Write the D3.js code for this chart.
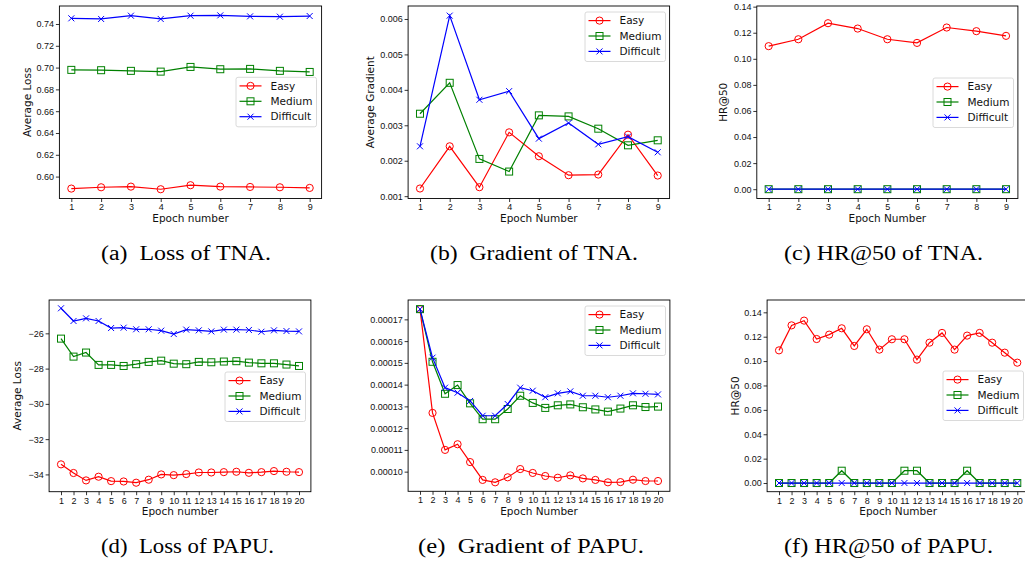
<!DOCTYPE html>
<html>
<head>
<meta charset="utf-8">
<title>Training curves</title>
<script src="https://d3js.org/d3.v7.min.js"></script>
<style>
  body { margin: 0; background: #fff; }
  svg { display: block; font-family: "DejaVu Sans", sans-serif; }
  .frame { fill: none; stroke: #000; stroke-width: 0.9px; }
  .tick line { stroke: #000; stroke-width: 0.8px; }
  .tick text { font-size: 9px; fill: #111; }
  .axis-label { font-size: 10.5px; fill: #111; }
  .legend-box { fill: #fff; fill-opacity: 0.85; stroke: #d0d0d0; stroke-width: 0.8px; }
  .legend-text { font-size: 10.5px; fill: #111; }
  .caption { font-family: "Liberation Serif", "Times New Roman", serif; font-size: 20px; fill: #000; }
</style>
</head>
<body>
<svg width="1025" height="563"></svg>
<script>
// ---- data ----
var epochs9 = [1, 2, 3, 4, 5, 6, 7, 8, 9];
var epochs20 = [1, 2, 3, 4, 5, 6, 7, 8, 9, 10, 11, 12, 13, 14, 15, 16, 17, 18, 19, 20];
var seriesNames = ['Easy', 'Medium', 'Difficult'];

// (a) loss of TNA
var tnaLossEasy = [0.5890, 0.5902, 0.5908, 0.5884, 0.5921, 0.5908, 0.5905, 0.5902, 0.5896];
var tnaLossMedium = [0.6979, 0.6976, 0.6970, 0.6963, 0.7006, 0.6985, 0.6988, 0.6970, 0.6960];
var tnaLossDifficult = [0.7452, 0.7446, 0.7476, 0.7446, 0.7476, 0.7479, 0.7470, 0.7467, 0.7473];

// (b) gradient of TNA
var tnaGradEasy = [0.001216, 0.002407, 0.001253, 0.002801, 0.002126, 0.001591, 0.001610, 0.002735, 0.001582];
var tnaGradMedium = [0.003326, 0.004199, 0.002051, 0.001694, 0.003280, 0.003251, 0.002904, 0.002435, 0.002576];
var tnaGradDifficult = [0.002407, 0.006094, 0.003720, 0.003964, 0.002623, 0.003064, 0.002463, 0.002679, 0.002238];

// (c) HR@50 of TNA
var tnaHrEasy = [0.1097, 0.1150, 0.1273, 0.1232, 0.1150, 0.1122, 0.1240, 0.1212, 0.1176];
var tnaHrMedium = [0, 0, 0, 0, 0, 0, 0, 0, 0];
var tnaHrDifficult = [0, 0, 0, 0, 0, 0, 0, 0, 0];

// (d) loss of PAPU
var papuLossEasy = [-33.43, -33.92, -34.34, -34.13, -34.38, -34.40, -34.47, -34.30, -34.00, -34.04,
                    -33.98, -33.89, -33.89, -33.87, -33.85, -33.91, -33.87, -33.81, -33.85, -33.87];
var papuLossMedium = [-26.30, -27.32, -27.09, -27.79, -27.79, -27.85, -27.75, -27.62, -27.55, -27.72,
                      -27.75, -27.62, -27.64, -27.60, -27.58, -27.66, -27.70, -27.70, -27.77, -27.85];
var papuLossDifficult = [-24.58, -25.30, -25.15, -25.30, -25.70, -25.68, -25.77, -25.77, -25.85, -26.04,
                         -25.79, -25.83, -25.89, -25.79, -25.79, -25.81, -25.91, -25.83, -25.87, -25.89];

// (e) gradient of PAPU
var papuGradEasy = [0.0001747, 0.0001270, 0.0001100, 0.0001126, 0.0001044, 0.0000962, 0.0000951, 0.0000974, 0.0001012, 0.0000994,
                    0.0000980, 0.0000972, 0.0000983, 0.0000969, 0.0000962, 0.0000951, 0.0000952, 0.0000963, 0.0000957, 0.0000957];
var papuGradMedium = [0.0001747, 0.0001505, 0.0001358, 0.0001398, 0.0001314, 0.0001241, 0.0001241, 0.0001288, 0.0001349, 0.0001316,
                      0.0001293, 0.0001305, 0.0001309, 0.0001296, 0.0001286, 0.0001276, 0.0001290, 0.0001305, 0.0001297, 0.0001299];
var papuGradDifficult = [0.0001747, 0.0001524, 0.0001386, 0.0001363, 0.0001325, 0.0001257, 0.0001257, 0.0001311, 0.0001386, 0.0001372,
                         0.0001342, 0.0001360, 0.0001369, 0.0001349, 0.0001349, 0.0001342, 0.0001349, 0.0001360, 0.0001358, 0.0001355];

// (f) HR@50 of PAPU
var papuHrEasy = [0.1088, 0.1293, 0.1332, 0.1181, 0.1217, 0.1269, 0.1124, 0.1261, 0.1094, 0.1179,
                  0.1179, 0.1012, 0.1151, 0.1231, 0.1094, 0.1209, 0.1231, 0.1151, 0.1069, 0.0987];
var papuHrMedium = [0, 0, 0, 0, 0, 0.0101, 0, 0, 0, 0, 0.0101, 0.0101, 0, 0, 0, 0.0101, 0, 0, 0, 0];
var papuHrDifficult = [0, 0, 0, 0, 0, 0, 0, 0, 0, 0, 0, 0, 0, 0, 0, 0, 0, 0, 0, 0];

// tick labels
var yTicksTnaLoss = [0.60, 0.62, 0.64, 0.66, 0.68, 0.70, 0.72, 0.74];
var yTicksTnaGrad = [0.001, 0.002, 0.003, 0.004, 0.005, 0.006];
var yTicksHr = [0.00, 0.02, 0.04, 0.06, 0.08, 0.10, 0.12, 0.14];
var yTicksPapuLoss = [-34, -32, -30, -28, -26];
var yTicksPapuGrad = [0.00010, 0.00011, 0.00012, 0.00013, 0.00014, 0.00015, 0.00016, 0.00017];

var captions = ['(a)  Loss of TNA.', '(b)  Gradient of TNA.', '(c) HR@50 of TNA.',
                '(d)  Loss of PAPU.', '(e)  Gradient of PAPU.', '(f) HR@50 of PAPU.'];

// ---- layout ----
var colors = { Easy: '#ff0000', Medium: '#008000', Difficult: '#0000ff' };
var svg = d3.select('svg');
svg.append('rect').attr('width', 1025).attr('height', 563).attr('fill', '#fff');

var panels = [
  { box: [59.4, 6, 321.6, 198.5], epochs: epochs9, ydom: [0.5799, 0.7565], yticks: yTicksTnaLoss, fmt: '.2f',
    ylabel: 'Average Loss', ylx: 27, xlabel: 'Epoch number', legend: [236, 77.3],
    data: [tnaLossEasy, tnaLossMedium, tnaLossDifficult] },
  { box: [408.1, 6, 669.6, 198.5], epochs: epochs9, ydom: [0.000934, 0.006366], yticks: yTicksTnaGrad, fmt: '.3f',
    ylabel: 'Average Gradient', ylx: 370, xlabel: 'Epoch Number', legend: [585, 12],
    data: [tnaGradEasy, tnaGradMedium, tnaGradDifficult] },
  { box: [756.8, 6, 1017.9, 198.5], epochs: epochs9, ydom: [-0.00714, 0.1405], yticks: yTicksHr, fmt: '.2f',
    ylabel: 'HR@50', ylx: 723, xlabel: 'Epoch Number', legend: [933, 78],
    data: [tnaHrEasy, tnaHrMedium, tnaHrDifficult] },
  { box: [49.1, 300, 310.9, 491.7], epochs: epochs20, ydom: [-34.98, -24.11], yticks: yTicksPapuLoss, fmt: 'd',
    ylabel: 'Average Loss', ylx: 17, xlabel: 'Epoch number', legend: [225, 372],
    data: [papuLossEasy, papuLossMedium, papuLossDifficult] },
  { box: [408.1, 300, 669.9, 491.3], epochs: epochs20, ydom: [0.00009097, 0.0001789], yticks: yTicksPapuGrad, fmt: '.5f',
    ylabel: null, xlabel: 'Epoch Number', legend: [585, 306],
    data: [papuGradEasy, papuGradMedium, papuGradDifficult] },
  { box: [767.1, 300, 1029.2, 491.7], epochs: epochs20, ydom: [-0.00711, 0.1501], yticks: yTicksHr, fmt: '.2f',
    ylabel: 'HR@50', ylx: 735, xlabel: 'Epoch Number', legend: [943, 371],
    data: [papuHrEasy, papuHrMedium, papuHrDifficult] }
];

function drawMarker(sel, name) {
  if (name === 'Easy') {
    sel.append('circle').attr('r', 3.6).attr('fill', 'none').attr('stroke', colors[name]).attr('stroke-width', 1);
  } else if (name === 'Medium') {
    sel.append('rect').attr('x', -3.5).attr('y', -3.5).attr('width', 7).attr('height', 7)
      .attr('fill', 'none').attr('stroke', colors[name]).attr('stroke-width', 1);
  } else {
    sel.append('path').attr('d', 'M-3,-3L3,3M-3,3L3,-3').attr('stroke', colors[name]).attr('stroke-width', 1);
  }
}

panels.forEach(function(p, pi) {
  var x0 = p.box[0], y0 = p.box[1], x1 = p.box[2], y1 = p.box[3];
  var n = p.epochs.length;
  var x = d3.scaleLinear().domain([1 - (n - 1) * 0.05, n + (n - 1) * 0.05]).range([x0, x1]);
  var y = d3.scaleLinear().domain(p.ydom).range([y1, y0]);
  var g = svg.append('g');

  // series
  var line = d3.line().x(function(d) { return x(d[0]); }).y(function(d) { return y(d[1]); });
  seriesNames.forEach(function(name, si) {
    var pts = p.epochs.map(function(e, i) { return [e, p.data[si][i]]; });
    g.append('path').attr('d', line(pts)).attr('fill', 'none')
      .attr('stroke', colors[name]).attr('stroke-width', 1.2);
    g.selectAll('g.m' + si).data(pts).enter().append('g')
      .attr('class', 'm' + si)
      .attr('transform', function(d) { return 'translate(' + x(d[0]) + ',' + y(d[1]) + ')'; })
      .each(function() { drawMarker(d3.select(this), name); });
  });

  // axes
  var xAxis = d3.axisBottom(x).tickValues(p.epochs).tickFormat(d3.format('d'))
    .tickSize(3.5).tickPadding(2).tickSizeOuter(0);
  g.append('g').attr('transform', 'translate(0,' + y1 + ')').call(xAxis)
    .call(function(a) { a.select('.domain').remove(); });
  var yAxis = d3.axisLeft(y).tickValues(p.yticks).tickFormat(d3.format(p.fmt))
    .tickSize(3.5).tickPadding(1.8).tickSizeOuter(0);
  g.append('g').attr('transform', 'translate(' + x0 + ',0)').call(yAxis)
    .call(function(a) { a.select('.domain').remove(); });
  g.selectAll('.tick text').attr('font-family', null).attr('font-size', null);

  g.append('rect').attr('class', 'frame')
    .attr('x', x0).attr('y', y0).attr('width', x1 - x0).attr('height', y1 - y0);

  // labels
  g.append('text').attr('class', 'axis-label').attr('text-anchor', 'middle')
    .attr('x', (x0 + x1) / 2).attr('y', y1 + 23.5).text(p.xlabel);
  if (p.ylabel) {
    g.append('text').attr('class', 'axis-label').attr('text-anchor', 'middle')
      .attr('transform', 'translate(' + (p.ylx + 3.8) + ',' + ((y0 + y1) / 2) + ') rotate(-90)')
      .text(p.ylabel);
  }

  // legend
  var lg = g.append('g').attr('transform', 'translate(' + p.legend[0] + ',' + p.legend[1] + ')');
  lg.append('rect').attr('class', 'legend-box').attr('width', 80.5).attr('height', 49.5).attr('rx', 2);
  seriesNames.forEach(function(name, si) {
    var ry = 8.6 + si * 15.4;
    lg.append('line').attr('x1', 3.5).attr('x2', 25.5).attr('y1', ry).attr('y2', ry)
      .attr('stroke', colors[name]).attr('stroke-width', 1.2);
    drawMarker(lg.append('g').attr('transform', 'translate(14.5,' + ry + ')'), name);
    lg.append('text').attr('class', 'legend-text').attr('x', 34.5).attr('y', ry + 3.8).text(name);
  });
});

// captions
var capSpans = [[101, 271], [430, 638], [784, 983], [101, 274], [418, 644], [784, 993]];
captions.forEach(function(c, i) {
  svg.append('text').attr('class', 'caption')
    .attr('x', capSpans[i][0]).attr('y', i < 3 ? 260 : 553)
    .attr('textLength', capSpans[i][1] - capSpans[i][0]).attr('lengthAdjust', 'spacingAndGlyphs')
    .style('white-space', 'pre')
    .text(c);
});
</script>
</body>
</html>
